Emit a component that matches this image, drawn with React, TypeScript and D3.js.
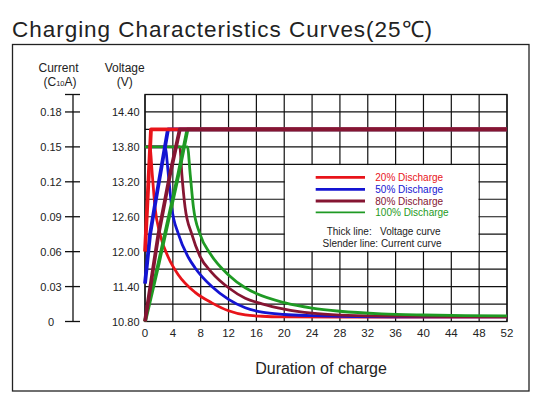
import React from "react";
import * as d3 from "d3";

// ---- data ----
const hourTicks = [0, 4, 8, 12, 16, 20, 24, 28, 32, 36, 40, 44, 48, 52];
const voltageTicks = [10.8, 11.4, 12.0, 12.6, 13.2, 13.8, 14.4];
const currentTicks = [0, 0.03, 0.06, 0.09, 0.12, 0.15, 0.18];

const seriesNames = ["20% Discharge", "50% Discharge", "80% Discharge", "100% Discharge"];
const seriesColors = ["#e8141a", "#1414d2", "#851532", "#1f9a24"];

const redVoltage: [number, number][] = [[0, 12.0], [0.86, 14.1], [52, 14.1]];
const blueVoltage: [number, number][] = [[0, 11.45], [0.72, 12.29], [1.44, 12.81], [3.3, 14.1], [52, 14.1]];
const maroonVoltage: [number, number][] = [[0, 10.8], [1.92, 12.29], [3.6, 13.33], [5.0, 14.1], [52, 14.1]];
const greenVoltage: [number, number][] = [[0, 10.8], [1.92, 11.78], [4.8, 13.33], [6.1, 14.1], [52, 14.1]];

const redCurrent: [number, number][] = [
  [0, 0.15], [0.7, 0.15], [1.05, 0.126], [1.44, 0.098], [2.16, 0.075], [3.36, 0.055], [4.8, 0.04],
  [7.2, 0.025], [9.6, 0.016], [12, 0.0092], [14.4, 0.0056], [16.8, 0.0045], [20, 0.004], [28, 0.0038],
  [36, 0.0038], [52, 0.0038],
];
const blueCurrent: [number, number][] = [
  [0, 0.15], [2.88, 0.15], [3.36, 0.126], [3.84, 0.098], [4.8, 0.075], [6.24, 0.055], [7.2, 0.046],
  [9.6, 0.03], [12, 0.019], [14.4, 0.0118], [16.8, 0.008], [20, 0.006], [24, 0.005], [30, 0.0043],
  [40, 0.004], [52, 0.004],
];
const maroonCurrent: [number, number][] = [
  [0, 0.15], [5.0, 0.15], [5.3, 0.126], [5.76, 0.098], [6.72, 0.075], [7.9, 0.056], [9.6, 0.042],
  [12, 0.029], [14.4, 0.02], [16.8, 0.0152], [20, 0.0107], [24, 0.0072], [28, 0.0055], [34, 0.0046],
  [44, 0.0042], [52, 0.0042],
];
const greenCurrent: [number, number][] = [
  [0, 0.15], [6.1, 0.15], [6.5, 0.126], [6.96, 0.098], [7.9, 0.075], [9.4, 0.058], [12, 0.04],
  [14.4, 0.029], [16, 0.024], [20, 0.0162], [24, 0.0115], [28, 0.0088], [34, 0.0066], [40, 0.0056],
  [46, 0.005], [52, 0.0048],
];

const voltageSeries = [greenVoltage, blueVoltage, redVoltage, maroonVoltage];
const voltageColorIdx = [3, 1, 0, 2];
const currentSeries = [redCurrent, blueCurrent, maroonCurrent, greenCurrent];
const currentColorIdx = [0, 1, 2, 3];

const FONT = "'Liberation Sans', Arial, Helvetica, sans-serif";

export default function App() {
  const W = 545;
  const H = 412;
  const x = d3.scaleLinear().domain([0, 52]).range([145, 507]);
  const yV = d3.scaleLinear().domain([10.8, 14.7]).range([321.5, 94.5]);
  const yC = d3.scaleLinear().domain([0, 0.195]).range([321.5, 94.5]);

  const vLine = d3.line<[number, number]>().x((d) => x(d[0])).y((d) => yV(d[1])).curve(d3.curveLinear);
  const cLine = d3.line<[number, number]>().x((d) => x(d[0])).y((d) => yC(d[1])).curve(d3.curveMonotoneX);

  const hGrid = d3.range(0, 14).map((i) => 10.8 + 0.3 * i);
  const [x0, x1] = x.range();
  const [yb, yt] = yV.range();
  const axisX = 73;

  return (
    <svg
      width={W}
      height={H}
      style={{ position: "absolute", left: 0, top: 0, background: "#fff" }}
      fontFamily={FONT}
    >
      <rect x={0} y={0} width={W} height={H} fill="#fff" />
      <text x={12} y={36.5} fontSize={22.5} fill="#222" textLength={420} lengthAdjust="spacing">
        Charging Characteristics Curves(25℃)
      </text>
      <rect x={12.5} y={44.5} width={516.5} height={346.5} fill="none" stroke="#222" strokeWidth={1.3} />

      {/* headers */}
      <text x={58.5} y={71.5} fontSize={12} textAnchor="middle" fill="#222">Current</text>
      <text x={60} y={85.5} fontSize={12} textAnchor="middle" fill="#222">
        (C<tspan fontSize={7.5}>10</tspan>A)
      </text>
      <text x={124.7} y={71.5} fontSize={12} textAnchor="middle" fill="#222">Voltage</text>
      <text x={124.7} y={85.5} fontSize={12} textAnchor="middle" fill="#222">(V)</text>

      {/* current axis */}
      <line x1={axisX} x2={axisX} y1={yt} y2={yb} stroke="#111" strokeWidth={1.3} />
      <line x1={65} x2={80} y1={yt} y2={yt} stroke="#111" strokeWidth={1.3} />
      {currentTicks.map((c) => (
        <g key={"c" + c}>
          <line x1={65} x2={80} y1={yC(c)} y2={yC(c)} stroke="#111" strokeWidth={1.3} />
          <text x={51} y={yC(c) + 4} fontSize={11} textAnchor="middle" fill="#222">
            {c === 0 ? "0" : c.toFixed(2)}
          </text>
        </g>
      ))}

      {/* voltage labels */}
      {voltageTicks.map((v) => (
        <text key={"v" + v} x={139.5} y={yV(v) + 4} fontSize={11} textAnchor="end" fill="#222">
          {v.toFixed(2)}
        </text>
      ))}

      {/* grid */}
      {hourTicks.map((h) => (
        <line key={"g" + h} x1={x(h)} x2={x(h)} y1={yt} y2={yb} stroke="#111" strokeWidth={1.2} />
      ))}
      {hGrid.map((v, i) => (
        <line key={"h" + i} x1={x0} x2={x1} y1={yV(v)} y2={yV(v)} stroke="#111" strokeWidth={1.2} />
      ))}
      <rect x={x0} y={yt} width={x1 - x0} height={yb - yt} fill="none" stroke="#111" strokeWidth={1.3} />

      {/* x labels */}
      {hourTicks.map((h) => (
        <text key={"xl" + h} x={x(h)} y={336.5} fontSize={11.5} textAnchor="middle" fill="#222">
          {h}
        </text>
      ))}
      <text x={321} y={374} fontSize={16} textAnchor="middle" fill="#222">Duration of charge</text>

      {/* legend box */}
      <rect
        x={x(20) + 0.7}
        y={yV(13.5) + 0.7}
        width={x(48) - x(20) - 1.4}
        height={yV(12.0) - yV(13.5) - 1.4}
        fill="#fff"
      />
      {seriesNames.map((n, i) => {
        const ly = [177.3, 189.3, 201, 212.3][i];
        return (
          <g key={n}>
            <line x1={315.7} x2={365} y1={ly} y2={ly} stroke={seriesColors[i]} strokeWidth={i === 3 ? 1.8 : 2.8} />
            <text x={375.3} y={ly + 3.6} fontSize={10} fill={seriesColors[i]}>{n}</text>
          </g>
        );
      })}
      <text x={326.7} y={235} fontSize={10} fill="#222">Thick line:{"\u00a0\u00a0\u00a0"}Voltage curve</text>
      <text x={382} y={246.7} fontSize={10} fill="#222" textAnchor="middle">Slender line: Current curve</text>

      {/* curves */}
      {currentSeries.map((s, i) => (
        <path
          key={"cs" + i}
          d={cLine(s) || ""}
          fill="none"
          stroke={seriesColors[currentColorIdx[i]]}
          strokeWidth={2.8}
          strokeLinejoin="round"
        />
      ))}
      {voltageSeries.map((s, i) => (
        <path
          key={"vs" + i}
          d={vLine(s) || ""}
          fill="none"
          stroke={seriesColors[voltageColorIdx[i]]}
          strokeWidth={3.8}
          strokeLinejoin="round"
        />
      ))}
    </svg>
  );
}
